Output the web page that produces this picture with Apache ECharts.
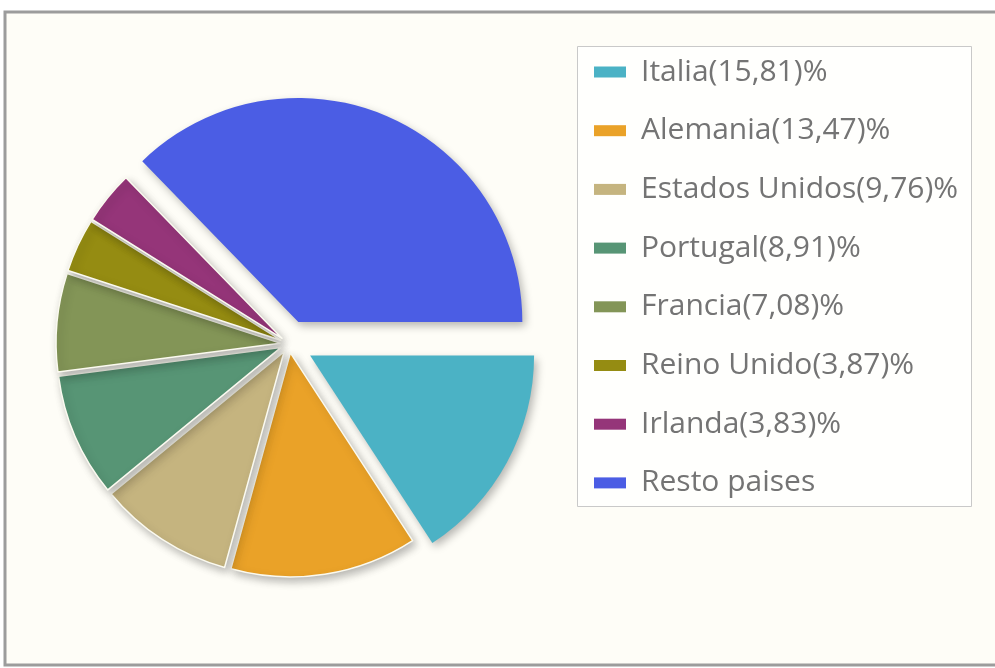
<!DOCTYPE html>
<html>
<head>
<meta charset="utf-8">
<script src="https://cdn.jsdelivr.net/npm/echarts@6/dist/echarts.min.js"></script>
<style>
  html, body { margin: 0; padding: 0; background: #ffffff; }
  #chart { width: 995px; height: 668px; }
</style>
</head>
<body>
<div id="chart"></div>
<script>
// ---- data ----
var countries = ['Italia', 'Alemania', 'Estados Unidos', 'Portugal', 'Francia', 'Reino Unido', 'Irlanda', 'Resto paises'];
var shares = [15.81, 13.47, 9.76, 8.91, 7.08, 3.87, 3.83, 37.27];
var shareLabels = ['15,81', '13,47', '9,76', '8,91', '7,08', '3,87', '3,83', ''];
var colors = ['#4bb2c5', '#eaa228', '#c5b47f', '#579575', '#839557', '#958c12', '#953579', '#4b5de4'];
var bigSlices = ['Italia', 'Resto paises'];

function legendName(i) {
  return shareLabels[i] ? countries[i] + '(' + shareLabels[i] + ')%' : countries[i];
}
var names = countries.map(function (c, i) { return legendName(i); });

var HIDDEN = { color: 'rgba(0,0,0,0)', shadowColor: 'rgba(0,0,0,0)', borderWidth: 0 };
function seriesData(showBig) {
  return countries.map(function (c, i) {
    var isBig = bigSlices.indexOf(c) >= 0;
    var visible = isBig === showBig;
    return {
      name: names[i],
      value: shares[i],
      selected: true,
      itemStyle: visible ? {
        color: colors[i],
        borderColor: '#fbfaf0',
        borderWidth: showBig ? 0 : 1.5,
        shadowColor: 'rgba(0,0,0,0.28)',
        shadowBlur: 9,
        shadowOffsetX: 3,
        shadowOffsetY: 4
      } : HIDDEN
    };
  });
}

var pieBase = {
  type: 'pie',
  center: [289, 344],
  radius: 224,
  startAngle: 0,
  clockwise: true,
  selectedMode: 'multiple',
  label: { show: false },
  labelLine: { show: false },
  emphasis: { disabled: true },
  silent: true,
  animation: false
};

var chart = echarts.init(document.getElementById('chart'), null, { renderer: 'canvas' });
chart.setOption({
  backgroundColor: '#ffffff',
  animation: false,
  color: colors,
  graphic: [
    {
      type: 'rect', z: 0,
      shape: { x: 5, y: 12, width: 1000, height: 653 },
      style: { fill: '#fefdf7', stroke: '#9c9c9c', lineWidth: 3 }
    },
    {
      type: 'rect', z: 1,
      shape: { x: 577.5, y: 46.5, width: 394, height: 460 },
      style: { fill: '#fffffd', stroke: '#c9c9c9', lineWidth: 1 }
    }
  ],
  legend: {
    orient: 'vertical',
    left: 594,
    top: 55,
    padding: 0,
    itemGap: 24.7,
    itemWidth: 32,
    itemHeight: 11,
    icon: 'rect',
    selectedMode: false,
    data: names.map(function (n, i) {
      return { name: n, itemStyle: { color: colors[i], opacity: 1, borderWidth: 0, shadowBlur: 0 } };
    }),
    textStyle: {
      fontFamily: 'Open Sans',
      fontSize: 30,
      lineHeight: 34,
      color: '#747474',
      padding: [0, 0, 0, 10]
    }
  },
  series: [
    Object.assign({}, pieBase, { name: 'small', selectedOffset: 9, data: seriesData(false) }),
    Object.assign({}, pieBase, { name: 'big', selectedOffset: 24, data: seriesData(true) })
  ]
});
</script>
</body>
</html>
